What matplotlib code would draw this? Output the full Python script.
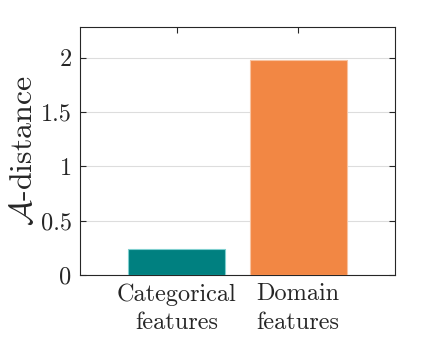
import numpy as np
import matplotlib
matplotlib.use("Agg")
import matplotlib.pyplot as plt

plt.rcParams['font.family'] = 'cmr10'
plt.rcParams['mathtext.fontset'] = 'cm'
plt.rcParams['axes.formatter.use_mathtext'] = True

categories = ['Categorical\nfeatures', 'Domain\nfeatures']
values = [0.24, 1.98]
colors = ['#008080', '#f28744']
yticks = [0, 0.5, 1, 1.5, 2]
ytick_labels = ['0', '0.5', '1', '1.5', '2']

fig = plt.figure(figsize=(4.36, 3.41), dpi=100)
ax = fig.add_axes([80 / 436, 1 - 275 / 341, 315 / 436, 248 / 341])

x = np.arange(1, len(values) + 1)
ax.bar(x, values, width=0.8, color=colors, edgecolor=['#7fcfcf', '#f8c3a1'],
       linewidth=0.8, zorder=3)

ax.set_xlim(0.2, 2.8)
ax.set_ylim(0, 2.285)
ax.set_xticks(x)
ax.set_xticklabels(categories, fontsize=17.5, linespacing=1.35)
ax.set_yticks(yticks)
ax.set_yticklabels(ytick_labels, fontsize=17.5)
ax.yaxis.grid(True, color='#dddddd', linewidth=0.8, zorder=0)
ax.tick_params(direction='in', top=True, right=True, length=4, width=0.8,
               color='#262626', labelcolor='#262626', pad=6)
for s in ax.spines.values():
    s.set_linewidth(0.8)
    s.set_color('#262626')
ax.set_ylabel(r'$\mathcal{A}$-distance', fontsize=23, color='#262626', labelpad=2)

fig.savefig('out.png', dpi=100)
